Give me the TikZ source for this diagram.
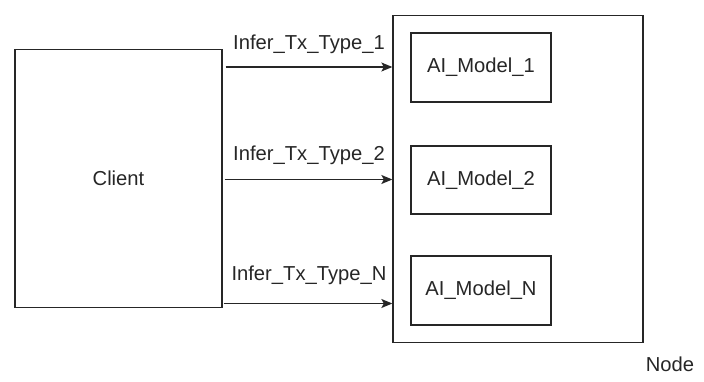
\documentclass[tikz,border=0pt]{standalone}
\usepackage{fontspec}
\setmainfont{Liberation Sans}
\usetikzlibrary{arrows.meta}
\begin{document}
\begin{tikzpicture}[x=1pt,y=-1pt,
  box/.style={draw=black!85,line width=1.3pt,inner sep=0pt,fill=white},
  lbl/.style={font=\fontsize{20.2}{23}\selectfont,text=black!85},
  flow/.style={draw=black!85,line width=1.3pt,-{Stealth[length=11pt,width=9pt,inset=2.5pt]}}]
  \useasboundingbox (0,0) rectangle (704,382);
  % client and node containers
  \node[box,minimum width=207pt,minimum height=258pt,lbl] (client) at (118.5,178.5) {Client};
  \node[box,minimum width=250pt,minimum height=327pt] (nodebox) at (518,179) {};
  \node[lbl,anchor=base] (nodelbl) at (670,371) {Node};
  % model boxes inside the node
  \node[box,minimum width=140pt,minimum height=69pt,lbl] (m1) at (481,67.5) {AI\_Model\_1};
  \node[box,minimum width=140pt,minimum height=68pt,lbl] (m2) at (481,180) {AI\_Model\_2};
  \node[box,minimum width=140pt,minimum height=69pt,lbl] (mn) at (481,290.5) {AI\_Model\_N};
  % request arrows
  \coordinate (s1) at (client.east |- 0,67);
  \coordinate (s2) at (client.east |- 0,179.5);
  \coordinate (s3) at (client.east |- 0,303.5);
  \draw[flow] ([xshift=3pt]s1) -- (s1 -| nodebox.west);
  \draw[flow] ([xshift=2pt]s2) -- (s2 -| nodebox.west);
  \draw[flow] ([xshift=1pt]s3) -- (s3 -| nodebox.west);
  % request labels
  \node[lbl,anchor=base] (t1) at (309,50) {Infer\_Tx\_Type\_1};
  \node[lbl,anchor=base] (t2) at (309,160.5) {Infer\_Tx\_Type\_2};
  \node[lbl,anchor=base] (t3) at (309,280.5) {Infer\_Tx\_Type\_N};
\end{tikzpicture}
\end{document}
